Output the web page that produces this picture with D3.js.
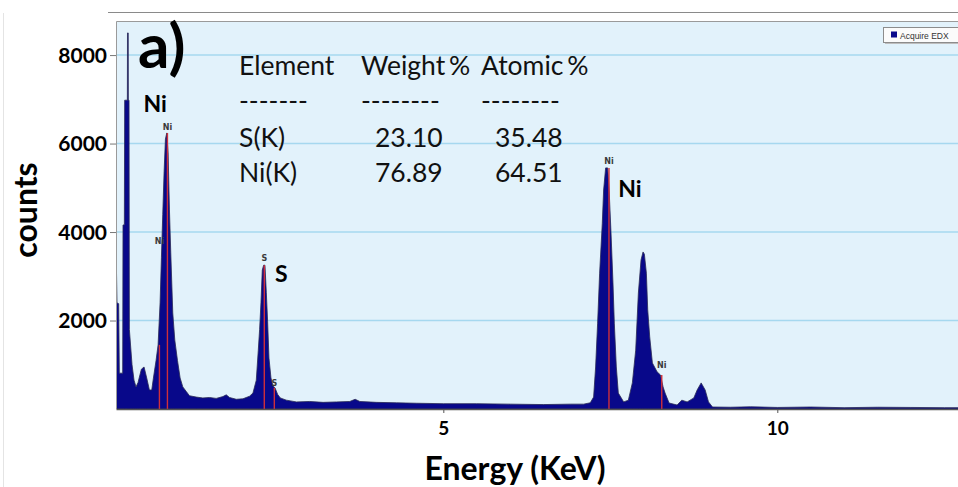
<!DOCTYPE html>
<html>
<head>
<meta charset="utf-8">
<script src="https://cdn.jsdelivr.net/npm/d3@7"></script>
<style>
  html, body { margin: 0; padding: 0; background: #fff; }
  svg { display: block; }
</style>
</head>
<body>
<svg id="chart" width="958" height="487"></svg>
<script>
// EDX spectrum: energy (keV) vs counts
const energy = [
  0.10, 0.115, 0.14, 0.15, 0.20, 0.205, 0.225, 0.23, 0.27, 0.272, 0.283, 0.285, 0.295,
  0.30, 0.34, 0.37, 0.40, 0.43, 0.48, 0.52, 0.56, 0.60, 0.635, 0.66, 0.70, 0.73,
  0.76, 0.78, 0.80, 0.82, 0.84, 0.86, 0.88, 0.90, 0.92, 0.95, 0.98, 1.02, 1.06,
  1.10, 1.15, 1.20, 1.30, 1.40, 1.50, 1.60, 1.70, 1.75, 1.80, 1.90, 2.00, 2.10,
  2.15, 2.20, 2.23, 2.25, 2.27, 2.29, 2.31, 2.33, 2.35, 2.37, 2.39, 2.42, 2.45,
  2.48, 2.52, 2.56, 2.65, 2.80, 3.00, 3.20, 3.40, 3.60, 3.68, 3.75, 4.00, 4.30,
  4.60, 5.00, 5.50, 6.00, 6.50, 6.90, 7.10, 7.20, 7.25, 7.28, 7.31, 7.34, 7.38,
  7.40, 7.43, 7.46, 7.48, 7.51, 7.54, 7.56, 7.59, 7.62, 7.70, 7.77, 7.83, 7.88,
  7.92, 7.96, 7.99, 8.01, 8.04, 8.06, 8.09, 8.13, 8.20, 8.25, 8.29, 8.32, 8.38,
  8.50, 8.57, 8.65, 8.75, 8.80, 8.86, 8.92, 8.97, 9.03, 9.30, 9.60, 10.0, 10.5,
  11.0, 11.5, 12.0, 12.5, 12.8
];
const counts = [
  3750, 2400, 2380, 810, 810, 4160, 4160, 6980, 6980, 8500, 8500, 6980, 6980,
  1800, 1000, 650, 500, 600, 900, 950, 700, 430, 430, 700, 1100, 1450,
  2400, 3430, 4400, 5360, 6100, 6240, 5800, 4500, 3530, 2170, 1560, 1100, 700,
  500, 400, 300, 270, 250, 260, 240, 280, 320, 260, 220, 230, 290,
  360, 650, 1330, 1800, 2400, 3140, 3250, 3250, 2640, 1970, 1150, 700, 520,
  480, 330, 250, 200, 160, 170, 150, 160, 170, 220, 170, 150, 140,
  130, 120, 120, 110, 100, 110, 110, 140, 270, 950, 1940, 3070, 4200,
  4950, 5450, 5450, 5020, 4000, 2850, 1940, 950, 360, 160, 200, 590, 1330,
  2620, 3370, 3550, 3500, 3070, 2240, 1630, 1040, 840, 770, 500, 360, 135,
  90, 200, 160, 250, 430, 590, 430, 160, 45, 40, 50, 35, 45,
  30, 40, 35, 30, 30
];

// Characteristic line markers
const markerEnergy = [0.75, 0.87, 2.32, 2.47, 7.48, 8.27];
const markerTop    = [1450, 6240, 3250, 480, 5450, 770];
const markerName   = ["Ni", "Ni", "S", "S", "Ni", "Ni"];
const markerLabelAt = [3800, 6370, 3410, 590, 5600, 990];

// Element annotations
const elementNames = ["Ni", "S", "Ni"];
const elementEnergy = [0.51, 2.48, 7.62];
const elementCounts = [6720, 2880, 4790];

// Quantification table
const tableHeader = ["Element", "Weight %", "Atomic %"];
const tableDashes = ["-------", "--------", "--------"];
const tableElements = ["S(K)", "Ni(K)"];
const weightPct = ["23.10", "76.89"];
const atomicPct = ["35.48", "64.51"];

const xTicks = [5, 10];
const yTicks = [2000, 4000, 6000, 8000];

const W = 958, H = 487;
const plot = { left: 116, top: 21, right: 958, bottom: 409 };

const svg = d3.select("#chart");
const x = d3.scaleLinear().domain([0.1, 12.705]).range([plot.left, plot.right]);
const y = d3.scaleLinear().domain([0, 8770]).range([plot.bottom, plot.top]);

svg.append("rect").attr("width", W).attr("height", H).attr("fill", "#ffffff");

// faint frame line at the far left
svg.append("line").attr("x1", 3.5).attr("x2", 3.5).attr("y1", 13).attr("y2", H)
  .attr("stroke", "#e4e4e4").attr("stroke-width", 1);

// top rule above the plot
svg.append("line").attr("x1", 108).attr("x2", W).attr("y1", 12.5).attr("y2", 12.5)
  .attr("stroke", "#8a8a8a").attr("stroke-width", 1);

// plot background
svg.append("rect")
  .attr("x", plot.left).attr("y", plot.top)
  .attr("width", plot.right - plot.left).attr("height", plot.bottom - plot.top)
  .attr("fill", "#e2f2fb");

svg.append("defs").append("clipPath").attr("id", "plotClip")
  .append("rect")
  .attr("x", plot.left).attr("y", plot.top)
  .attr("width", plot.right - plot.left).attr("height", plot.bottom - plot.top);

// gridlines
svg.append("g").selectAll("line").data(yTicks).join("line")
  .attr("x1", plot.left).attr("x2", plot.right)
  .attr("y1", d => y(d)).attr("y2", d => y(d))
  .attr("stroke", "#a6d8ef").attr("stroke-width", 1.5);

// spectrum
const spectrum = energy.map((e, i) => ({ e, c: counts[i] }));
const area = d3.area()
  .x(d => x(d.e))
  .y0(y(0))
  .y1(d => y(d.c))
  .curve(d3.curveLinear);

const g = svg.append("g").attr("clip-path", "url(#plotClip)");
g.append("path").datum(spectrum)
  .attr("d", area)
  .attr("fill", "#08088a")
  .attr("stroke", "#2a2a55")
  .attr("stroke-width", 0.8);

// marker lines
const markers = markerEnergy.map((e, i) => ({ e, top: markerTop[i], name: markerName[i], lab: markerLabelAt[i] }));
g.selectAll("line.marker").data(markers).join("line")
  .attr("class", "marker")
  .attr("x1", d => x(d.e)).attr("x2", d => x(d.e))
  .attr("y1", y(0)).attr("y2", d => y(d.top))
  .attr("stroke", "#cf2f3a").attr("stroke-width", 1.4);

svg.append("g").selectAll("text").data(markers).join("text")
  .attr("x", d => x(d.e)).attr("y", d => y(d.lab) + 3)
  .attr("text-anchor", "middle")
  .attr("font-family", "DejaVu Sans, sans-serif")
  .attr("font-size", 8).attr("font-weight", "bold")
  .attr("fill", "#3a3a3a")
  .text(d => d.name);

// plot frame (left and top edges)
svg.append("path")
  .attr("d", `M${plot.left + 0.5},${plot.bottom} V${plot.top + 0.5} H${plot.right}`)
  .attr("fill", "none").attr("stroke", "#9a9a9a").attr("stroke-width", 1);

// x axis
const xAxis = svg.append("g")
  .attr("transform", `translate(0,${plot.bottom})`)
  .call(d3.axisBottom(x).tickValues(xTicks).tickSize(4).tickSizeOuter(0).tickFormat(d3.format("d")));
xAxis.select(".domain").attr("stroke", "#555").attr("stroke-width", 1.5);
xAxis.selectAll(".tick line").attr("stroke", "#555");
xAxis.selectAll(".tick text")
  .attr("font-family", "Lato, sans-serif").attr("font-weight", "bold")
  .attr("font-size", 19).attr("fill", "#000").attr("dy", null).attr("y", 26);

// y axis
const yAxis = svg.append("g")
  .attr("transform", `translate(${plot.left},0)`)
  .call(d3.axisLeft(y).tickValues(yTicks).tickSize(6).tickSizeOuter(0).tickFormat(d3.format("d")));
yAxis.select(".domain").remove();
yAxis.selectAll(".tick line").attr("stroke", "#777");
yAxis.selectAll(".tick text")
  .attr("font-family", "Lato, sans-serif").attr("font-weight", "bold")
  .attr("font-size", 21).attr("fill", "#000").attr("x", -9).attr("dy", "0.35em");

// axis titles
svg.append("text")
  .attr("transform", "translate(37,210) rotate(-90)")
  .attr("text-anchor", "middle")
  .attr("font-family", "Lato, sans-serif").attr("font-weight", "bold")
  .attr("font-size", 32).attr("fill", "#000")
  .text("counts");

svg.append("text")
  .attr("x", 515).attr("y", 480)
  .attr("text-anchor", "middle")
  .attr("font-family", "Lato, sans-serif").attr("font-weight", "bold")
  .attr("font-size", 32).attr("fill", "#000")
  .text("Energy (KeV)");

// panel letter
svg.append("text")
  .attr("x", 138).attr("y", 68)
  .attr("font-family", "Lato, sans-serif").attr("font-weight", "bold")
  .attr("font-size", 62).attr("fill", "#000")
  .text("a)");

// element annotations
svg.append("g").selectAll("text").data(elementNames).join("text")
  .attr("x", (d, i) => x(elementEnergy[i])).attr("y", (d, i) => y(elementCounts[i]))
  .attr("font-family", "Lato, sans-serif").attr("font-weight", "bold")
  .attr("font-size", 23).attr("fill", "#000")
  .text(d => d);

// quantification table
const colX = [239, 361, 481];
const table = svg.append("g")
  .attr("font-family", "Lato, sans-serif").attr("font-size", 26.5).attr("fill", "#111");
tableHeader.forEach((t, i) => table.append("text").attr("x", colX[i]).attr("y", 75)
  .attr("word-spacing", -3).text(t));
tableDashes.forEach((t, i) => table.append("text").attr("x", colX[i]).attr("y", 110).text(t));
tableElements.forEach((t, r) => {
  const yy = 147 + r * 35;
  table.append("text").attr("x", colX[0]).attr("y", yy).text(t);
  table.append("text").attr("x", 375).attr("y", yy).text(weightPct[r]);
  table.append("text").attr("x", 495).attr("y", yy).text(atomicPct[r]);
});

// legend
const legend = svg.append("g");
legend.append("rect").attr("x", 885).attr("y", 29).attr("width", 80).attr("height", 15)
  .attr("fill", "#bdbdbd");
legend.append("rect").attr("x", 883.5).attr("y", 27.5).attr("width", 80).attr("height", 15)
  .attr("fill", "#fbfbfb").attr("stroke", "#8c8c8c").attr("stroke-width", 1);
legend.append("rect").attr("x", 891).attr("y", 31.5).attr("width", 6).attr("height", 6)
  .attr("fill", "#0a0a8c");
legend.append("text").attr("x", 900).attr("y", 38.5)
  .attr("font-family", "Liberation Sans, Arial, sans-serif").attr("font-size", 8.5)
  .attr("fill", "#333").text("Acquire EDX");
</script>
</body>
</html>
